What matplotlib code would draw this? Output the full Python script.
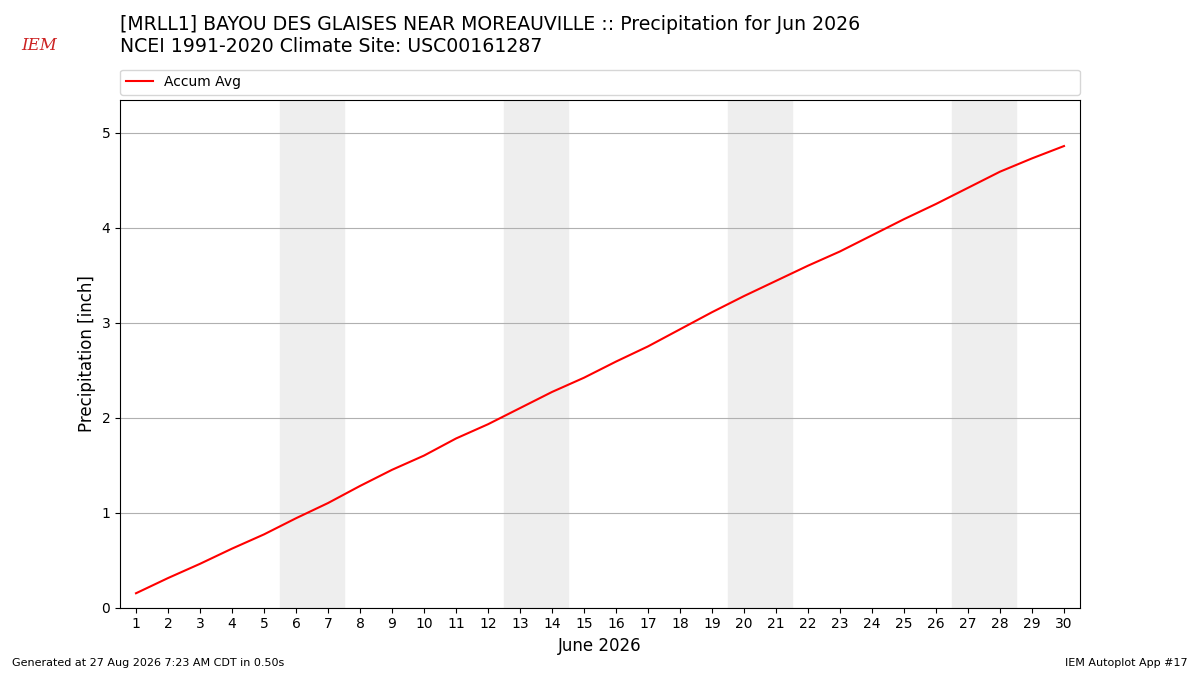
import matplotlib

matplotlib.use("Agg")
import matplotlib.pyplot as plt

# accumulated climatological precipitation, June (inches)
days = list(range(1, 31))
accum_avg = [
    0.15, 0.31, 0.46, 0.62, 0.77, 0.94, 1.10, 1.28, 1.45, 1.60,
    1.78, 1.93, 2.10, 2.27, 2.42, 2.59, 2.75, 2.93, 3.11, 3.28,
    3.44, 3.60, 3.75, 3.92, 4.09, 4.25, 4.42, 4.59, 4.73, 4.86,
]
weekends = [(6, 7), (13, 14), (20, 21), (27, 28)]

title = (
    "[MRLL1] BAYOU DES GLAISES NEAR MOREAUVILLE :: Precipitation for Jun 2026\n"
    "NCEI 1991-2020 Climate Site: USC00161287"
)


def main() -> None:
    fig = plt.figure(figsize=(12, 6.75), dpi=100)
    ax = fig.add_axes([0.1, 0.1, 0.8, 0.752])

    for start, end in weekends:
        ax.axvspan(start - 0.5, end + 0.5, color="#eeeeee", zorder=0)

    ax.plot(days, accum_avg, color="r", lw=1.5, label="Accum Avg", zorder=3)

    ax.set_xlim(0.5, 30.5)
    ax.set_ylim(0, max(accum_avg) * 1.1)
    ax.set_xticks(days)
    ax.set_xticklabels([str(d) for d in days])
    ax.tick_params(labelsize=10)
    ax.yaxis.grid(True, color="#b0b0b0", lw=0.8)
    ax.set_axisbelow(True)
    ax.set_xlabel("June 2026", fontsize=12)
    ax.set_ylabel("Precipitation [inch]", fontsize=12)

    ax.legend(
        loc="lower left",
        bbox_to_anchor=(0, 1.01, 1, 0.05),
        mode="expand",
        ncol=1,
        fontsize=10,
        borderaxespad=0,
    )

    fig.text(0.1, 0.917, title, fontsize=13.6, va="bottom", ha="left")

    # rough stand-in for the IEM logo
    fig.text(0.018, 0.932, "IEM", fontsize=12, color="#cc2222",
             family="DejaVu Serif", style="italic", ha="left", va="center")

    fig.text(0.01, 0.01, "Generated at 27 Aug 2026 7:23 AM CDT in 0.50s",
             fontsize=8, ha="left", va="bottom")
    fig.text(0.99, 0.01, "IEM Autoplot App #17", fontsize=8,
             ha="right", va="bottom")

    fig.savefig("out.png", dpi=100)
    plt.close(fig)


if __name__ == "__main__":
    main()
